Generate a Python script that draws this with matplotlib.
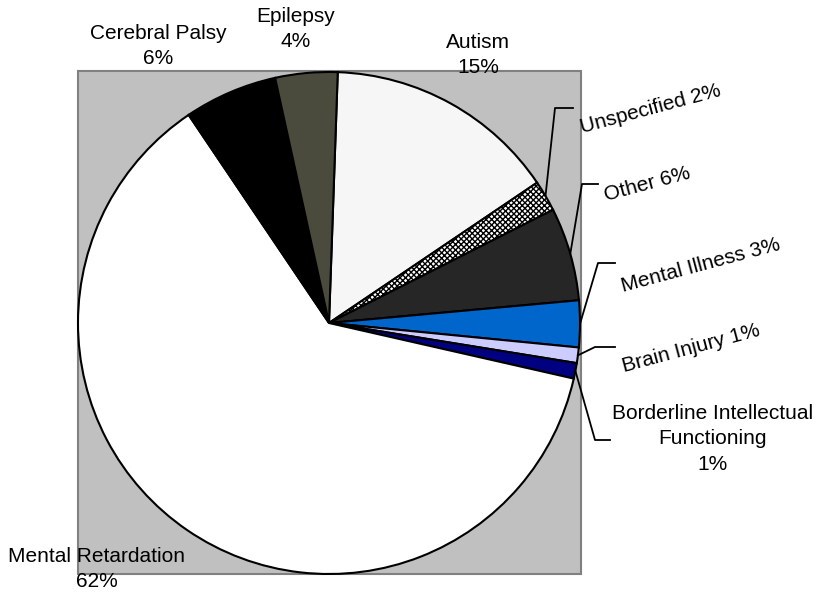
import numpy as np
import matplotlib.pyplot as plt
from matplotlib.patches import Rectangle

plt.rcParams['font.family'] = ['Liberation Sans', 'DejaVu Sans']

# diagnosis shares, clockwise from the top of the pie
categories = ['Autism', 'Unspecified', 'Other', 'Mental Illness', 'Brain Injury',
              'Borderline Intellectual\nFunctioning', 'Mental Retardation',
              'Cerebral Palsy', 'Epilepsy']
shares = [15, 2, 6, 3, 1, 1, 62, 6, 4]
colors = ['#f6f6f6', 'white', '#262626', '#0066cc', '#ccccff', '#000080',
          'white', 'black', '#4b4b3d']
hatches = [None, 'xxxxxx', None, None, None, None, None, None, None]

# label styles: stacked labels sit above/below, inline ones are tilted
stacked = [True, False, False, False, False, True, True, True, True]
label_pos = [(478, 55), (582, 133), (606, 201), (623, 292), (624, 372),
             (713, 439), (97, 569), (158, 46), (296, 29)]
# leader line elbows for the small slices on the right
leaders = {1: [(555, 108), (573, 108)],
           2: [(582, 184), (598, 184)],
           3: [(598, 263), (615, 263)],
           4: [(595, 347), (615, 347)],
           5: [(595, 440), (610, 440)]}

fig = plt.figure(figsize=(8.23, 5.96), dpi=100)
ax = fig.add_axes([0, 0, 1, 1])

cx, cy, r = 329, 323, 251
ax.add_patch(Rectangle((cx - r, cy - r - 1), 2 * r + 1, 2 * r + 1,
                       facecolor='#c0c0c0', edgecolor='#808080', lw=1.5, zorder=0))

# y axis points down here, so counterclock=True draws clockwise on screen
wedges, _ = ax.pie(shares, colors=colors, startangle=-88, counterclock=True,
                   center=(cx, cy), radius=r,
                   wedgeprops=dict(edgecolor='black', linewidth=1.5))
for w, h in zip(wedges, hatches):
    if h:
        w.set_hatch(h)

for i, (name, val) in enumerate(zip(categories, shares)):
    x, y = label_pos[i]
    if stacked[i]:
        ax.text(x, y, f'{name}\n{val}%', ha='center', va='center',
                fontsize=15, linespacing=1.45)
    else:
        ax.text(x, y, f'{name} {val}%', ha='left', va='baseline',
                rotation=15, rotation_mode='anchor', fontsize=15)
    if i in leaders:
        w = wedges[i]
        mid = np.deg2rad((w.theta1 + w.theta2) / 2)
        pts = [(cx + r * np.cos(mid), cy + r * np.sin(mid))] + leaders[i]
        ax.plot([p[0] for p in pts], [p[1] for p in pts], color='black', lw=1.3)

ax.set_xlim(0, 823)
ax.set_ylim(596, 0)
ax.set_aspect('equal')
ax.axis('off')

fig.savefig('out.png', dpi=100, facecolor='white')
